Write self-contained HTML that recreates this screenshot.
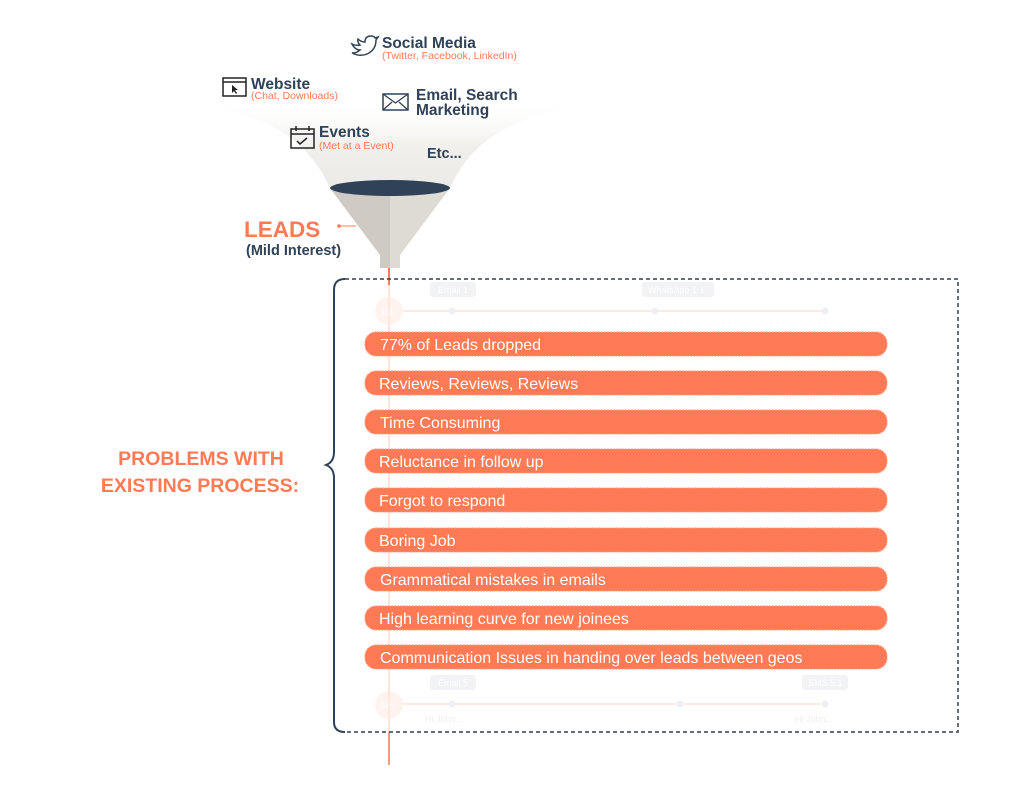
<!DOCTYPE html>
<html><head><meta charset="utf-8"><style>
html,body{margin:0;padding:0;background:#fff;}
svg{display:block;}
text{font-family:"Liberation Sans",sans-serif;}
</style></head><body>
<svg width="1024" height="800" viewBox="0 0 1024 800" xmlns="http://www.w3.org/2000/svg">
<defs>
<linearGradient id="fan" x1="0" y1="0" x2="0" y2="1">
<stop offset="0" stop-color="#fff" stop-opacity="0"/>
<stop offset="0.5" stop-color="#f1f0ed"/>
<stop offset="1" stop-color="#eceae6"/>
</linearGradient>
</defs>
<path d="M210 108 Q300 120 330 188 L450 188 Q480 120 575 108 Q480 100 390 100 Q300 100 210 108 Z" fill="url(#fan)"/>
<g fill="#2f4257">
<path d="M352 44 q4 2 8 1 q-3 -3 -2 -6 q3 3 7 3 q0 -6 6 -6 q3 0 4 2 l3 -1 l-2 3 q0 10 -9 14 q-7 3 -15 -1 q5 0 8 -3 q-5 0 -8 -6z" fill="none" stroke="#2f4257" stroke-width="1.5"/>
<text x="382" y="48" font-size="15.5" font-weight="bold">Social Media</text>
<text x="251" y="89" font-size="15.5" font-weight="bold">Website</text>
<text x="416" y="100" font-size="15.5" font-weight="bold">Email, Search</text>
<text x="416" y="115" font-size="15.5" font-weight="bold">Marketing</text>
<text x="319" y="137" font-size="15.5" font-weight="bold">Events</text>
<text x="427" y="158" font-size="14.5" font-weight="bold">Etc...</text>
</g>
<g fill="#ff7a55" font-size="10.5">
<text x="382" y="59">(Twitter, Facebook, LinkedIn)</text>
<text x="251" y="99">(Chat, Downloads)</text>
<text x="319" y="149">(Met at a Event)</text>
</g>
<rect x="223" y="78" width="23" height="18" fill="none" stroke="#222" stroke-width="1.5"/>
<line x1="223" y1="82" x2="246" y2="82" stroke="#222" stroke-width="1.5"/>
<path d="M232 85 l0 8 l2 -2 l2 3 l1 -1 l-2 -3 l3 0z" fill="#222"/>
<rect x="383" y="94" width="25" height="16" fill="none" stroke="#2f4257" stroke-width="1.5"/>
<path d="M383 94 l12.5 9 l12.5 -9 M383 110 l9 -8 M408 110 l-9 -8" fill="none" stroke="#2f4257" stroke-width="1.3"/>
<rect x="291" y="129" width="23" height="19" fill="none" stroke="#222" stroke-width="1.5"/>
<line x1="291" y1="134" x2="314" y2="134" stroke="#222" stroke-width="1.5"/>
<path d="M296 126 v5 M309 126 v5" stroke="#222" stroke-width="1.5"/>
<path d="M297 141 l3 3 l7 -6" fill="none" stroke="#222" stroke-width="1.5"/>
<path d="M330 188 L380 255 L400 255 L450 188 Z" fill="#dedbd5"/>
<path d="M330 188 L380 255 L390 255 L390 188 Z" fill="#cfcbc4"/>
<rect x="380" y="253" width="20" height="15" fill="#dedbd5"/>
<rect x="380" y="253" width="10" height="15" fill="#cfcbc4"/>
<ellipse cx="390" cy="188" rx="60" ry="8" fill="#2f4257"/>
<text x="244" y="237" font-size="22.5" font-weight="bold" fill="#ff7a55">LEADS</text>
<text x="246" y="255" font-size="14.5" font-weight="bold" fill="#2f4257">(Mild Interest)</text>
<line x1="339" y1="226" x2="356" y2="226" stroke="#ff7a55" stroke-width="1"/>
<circle cx="339" cy="226" r="1.8" fill="#ff7a55"/>
<line x1="389" y1="268" x2="389" y2="765" stroke="#ff7a55" stroke-opacity="0.2" stroke-width="2"/>
<line x1="389" y1="268" x2="389" y2="285" stroke="#ff7a55" stroke-width="2"/>
<line x1="389" y1="732" x2="389" y2="765" stroke="#ff7a55" stroke-width="2" stroke-opacity="0.7"/>
<g opacity="0.5">
<circle cx="389" cy="311" r="14" fill="#ffe9e2"/>
<text x="380" y="315" font-size="10" fill="#fff">1st</text>
<line x1="403" y1="311" x2="825" y2="311" stroke="#ffd6c9" stroke-width="2"/>
<circle cx="452" cy="311" r="3.5" fill="#dde1e6"/><circle cx="655" cy="311" r="3.5" fill="#dde1e6"/><circle cx="825" cy="311" r="3.5" fill="#dde1e6"/>
<rect x="430" y="282" width="46" height="15" rx="3" fill="#e7e9ec"/>
<rect x="642" y="282" width="72" height="15" rx="3" fill="#e7e9ec"/>
<text x="438" y="293" font-size="9" fill="#fff">Email 1</text>
<text x="648" y="293" font-size="9" fill="#fff">WhatsApp 1.1</text>
<circle cx="389" cy="705" r="14" fill="#ffe9e2"/>
<text x="380" y="709" font-size="10" fill="#fff">5th</text>
<line x1="403" y1="704" x2="825" y2="704" stroke="#ffd6c9" stroke-width="2"/>
<circle cx="452" cy="704" r="3.5" fill="#dde1e6"/><circle cx="680" cy="704" r="3.5" fill="#dde1e6"/><circle cx="825" cy="704" r="3.5" fill="#dde1e6"/>
<rect x="430" y="675" width="46" height="15" rx="3" fill="#e7e9ec"/>
<rect x="802" y="675" width="46" height="15" rx="3" fill="#e7e9ec"/>
<text x="438" y="686" font-size="9" fill="#fff">Email 5</text>
<text x="808" y="686" font-size="9" fill="#fff">SMS 5.1</text>
<text x="425" y="722" font-size="9" fill="#ddd">Hi John...</text>
<text x="795" y="722" font-size="9" fill="#ddd">Hi John...</text>
</g>
<path d="M345 279 H958 V732 H345" fill="none" stroke="#2f4257" stroke-width="1.5" stroke-dasharray="4,3"/>
<path d="M345 279 Q334 279 334 290 L334 452 Q334 462 326 465 Q334 468 334 478 L334 722 Q334 732 345 732" fill="none" stroke="#2f4257" stroke-width="2"/>
<text x="201" y="465" font-size="19.5" font-weight="bold" fill="#ff7a55" text-anchor="middle">PROBLEMS WITH</text>
<text x="200" y="492" font-size="19.5" font-weight="bold" fill="#ff7a55" text-anchor="middle">EXISTING PROCESS:</text>
<g fill="#ff7a55" stroke="#ff9a7c" stroke-width="1" stroke-dasharray="2,1">
<rect x="365" y="332" width="522" height="24" rx="11"/>
<rect x="365" y="371" width="522" height="24" rx="11"/>
<rect x="365" y="410" width="522" height="24" rx="11"/>
<rect x="365" y="449" width="522" height="24" rx="11"/>
<rect x="365" y="488" width="522" height="24" rx="11"/>
<rect x="365" y="528" width="522" height="24" rx="11"/>
<rect x="365" y="567" width="522" height="24" rx="11"/>
<rect x="365" y="606" width="522" height="24" rx="11"/>
<rect x="365" y="645" width="522" height="24" rx="11"/>
</g>
<g fill="#fff" font-size="16">
<text x="380" y="350">77% of Leads dropped</text>
<text x="379" y="389">Reviews, Reviews, Reviews</text>
<text x="380" y="428">Time Consuming</text>
<text x="379" y="467">Reluctance in follow up</text>
<text x="379" y="506">Forgot to respond</text>
<text x="379" y="546">Boring Job</text>
<text x="380" y="585">Grammatical mistakes in emails</text>
<text x="379" y="624">High learning curve for new joinees</text>
<text x="380" y="663">Communication Issues in handing over leads between geos</text>
</g>
</svg>
</body></html>
